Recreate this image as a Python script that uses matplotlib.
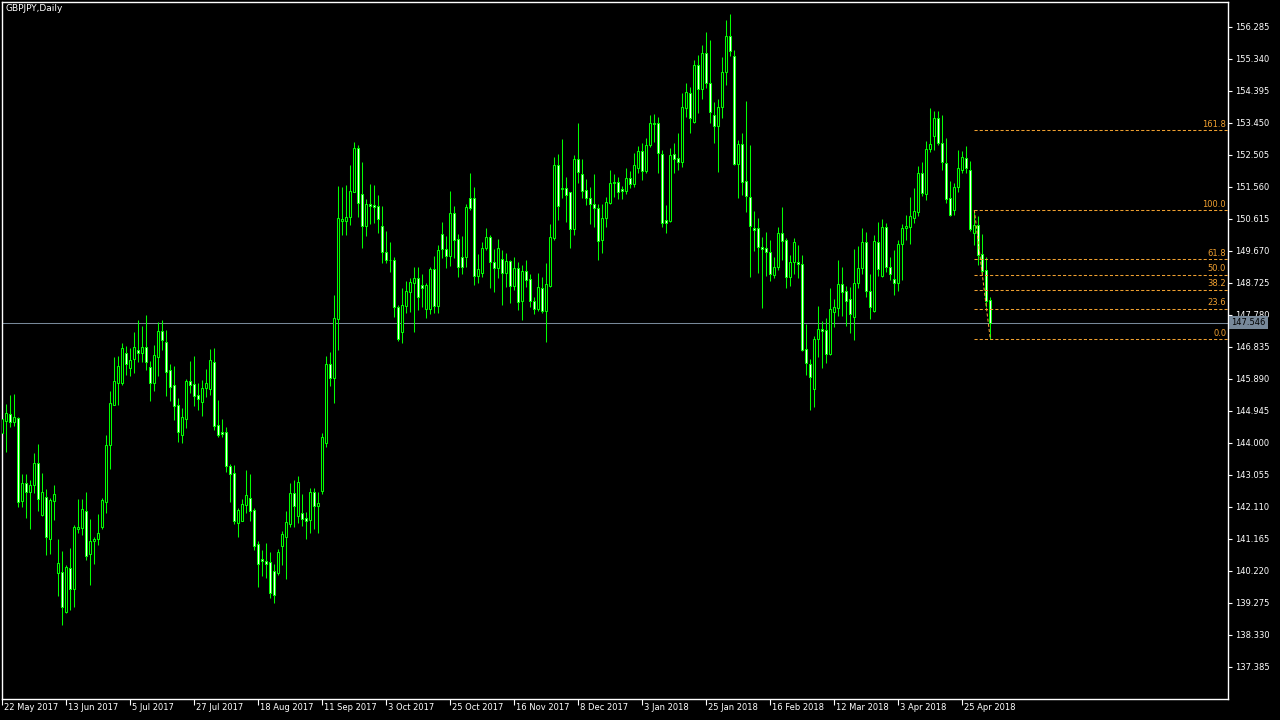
import numpy as np
import matplotlib
matplotlib.use("Agg")
import matplotlib.pyplot as plt
from matplotlib import transforms

# GBPJPY daily candles, 22 May 2017 .. 4 May 2018 (one row per bar)
opens = [
    144.30, 144.65, 144.84, 144.62, 144.72, 142.29, 142.80, 142.53, 142.74, 143.39,
    141.87, 142.41, 141.15, 142.29, 140.16, 140.19, 139.01, 140.29, 139.67, 141.44,
    141.47, 141.99, 140.70, 141.09, 141.15, 141.52, 142.24, 143.92, 145.11, 145.77,
    145.77, 146.64, 146.22, 146.46, 146.73, 146.66, 146.82, 146.25, 145.75, 146.52,
    147.31, 146.96, 146.15, 145.69, 145.10, 144.23, 144.71, 145.81, 145.72, 145.40,
    145.21, 145.62, 145.60, 146.37, 144.51, 144.33, 144.31, 143.31, 143.10, 141.64,
    141.69, 142.17, 142.36, 142.01, 141.00, 140.57, 140.52, 140.48, 140.21, 140.16,
    140.96, 141.23, 141.59, 142.51, 141.85, 141.91, 141.77, 141.72, 142.53, 142.14,
    142.57, 143.98, 146.31, 145.90, 147.64, 150.55, 150.56, 150.67, 151.41, 152.69,
    151.34, 150.41, 151.05, 151.01, 150.98, 150.41, 149.64, 149.41, 149.39, 148.00,
    147.28, 148.05, 148.46, 148.72, 148.85, 148.65, 147.96, 147.96, 149.12, 148.05,
    150.15, 149.71, 149.52, 150.78, 150.02, 149.47, 149.47, 151.22, 151.22, 148.93,
    149.00, 149.74, 150.06, 149.33, 149.15, 149.42, 149.00, 149.37, 148.64, 149.15,
    148.17, 149.06, 148.82, 148.19, 147.95, 148.56, 147.90, 148.64, 150.05, 152.20,
    151.48, 151.52, 151.39, 150.31, 152.38, 151.93, 151.46, 151.22, 151.04, 150.92,
    149.99, 150.63, 151.09, 151.66, 151.69, 151.49, 151.44, 151.81, 151.63, 152.12,
    152.61, 152.03, 152.79, 153.40, 153.43, 152.53, 150.58, 150.56, 152.53, 152.40,
    152.30, 153.87, 154.32, 153.48, 155.15, 154.44, 155.50, 154.61, 153.68, 153.36,
    153.90, 154.94, 156.01, 155.42, 152.22, 152.82, 151.73, 151.25, 150.35, 150.33,
    149.79, 149.74, 149.62, 148.95, 149.18, 150.18, 149.99, 148.90, 149.33, 149.33,
    149.27, 146.76, 146.31, 145.58, 147.06, 147.36, 147.33, 146.61, 147.87, 147.99,
    148.68, 148.48, 148.23, 147.72, 148.71, 149.15, 149.94, 148.49, 147.90, 149.94,
    148.92, 150.36, 149.18, 148.82, 148.71, 149.87, 150.33, 150.36, 150.63, 150.82,
    151.95, 151.33, 152.66, 153.06, 153.58, 152.86, 152.25, 151.22, 150.87, 151.54,
    152.05, 152.40, 152.05, 150.18, 150.43, 149.56, 149.10, 148.21,
]
highs = [
    144.95, 145.14, 145.41, 145.44, 144.77, 143.08, 143.08, 142.90, 143.69, 143.96,
    143.11, 142.63, 142.37, 142.75, 141.16, 140.80, 140.39, 140.89, 141.56, 142.33,
    142.33, 142.54, 141.75, 141.22, 141.90, 142.37, 144.23, 145.53, 146.53, 146.56,
    146.93, 146.87, 146.79, 147.27, 147.62, 147.45, 147.77, 146.42, 146.89, 147.55,
    147.62, 147.33, 146.32, 146.26, 145.32, 145.02, 145.87, 146.41, 146.56, 145.75,
    145.85, 146.17, 146.77, 146.80, 145.26, 144.70, 144.45, 143.37, 143.34, 142.06,
    142.33, 143.19, 143.07, 142.06, 141.11, 140.83, 141.03, 140.76, 140.42, 140.85,
    141.40, 141.98, 142.80, 142.90, 143.02, 142.49, 141.94, 142.67, 142.67, 142.55,
    144.28, 146.56, 146.69, 148.36, 151.58, 151.56, 151.61, 152.20, 152.87, 152.79,
    152.28, 151.20, 151.64, 151.61, 151.31, 150.99, 150.25, 149.92, 149.49, 148.06,
    148.56, 148.77, 148.85, 149.20, 149.20, 148.97, 148.73, 149.20, 149.50, 149.84,
    150.51, 150.11, 151.43, 151.00, 150.15, 150.10, 151.05, 151.97, 151.56, 149.56,
    149.93, 150.35, 150.13, 149.72, 150.02, 149.69, 149.59, 149.41, 149.47, 149.34,
    149.25, 149.40, 148.98, 148.31, 149.02, 148.90, 149.32, 150.46, 152.45, 152.53,
    152.97, 151.84, 151.39, 152.50, 153.45, 152.38, 151.79, 151.54, 151.93, 151.05,
    151.05, 151.27, 152.05, 151.93, 151.84, 151.58, 152.10, 152.02, 152.55, 152.76,
    152.86, 153.01, 153.68, 153.71, 153.63, 152.64, 151.02, 152.69, 152.84, 153.14,
    154.32, 154.61, 154.49, 155.30, 155.45, 155.74, 156.14, 155.89, 154.07, 154.14,
    155.40, 156.48, 156.66, 155.60, 152.94, 153.14, 154.09, 152.79, 150.85, 150.63,
    150.06, 150.21, 149.99, 149.47, 150.38, 150.95, 150.04, 149.54, 150.04, 149.84,
    149.54, 147.51, 146.47, 147.15, 148.04, 147.59, 147.67, 148.58, 148.24, 149.40,
    149.18, 148.63, 148.59, 149.72, 149.82, 150.33, 150.21, 148.98, 150.13, 150.51,
    150.61, 150.48, 149.49, 149.69, 149.99, 150.46, 150.72, 151.25, 151.51, 152.17,
    152.30, 152.91, 153.87, 153.80, 153.80, 153.68, 152.99, 151.73, 151.66, 152.64,
    152.62, 152.76, 152.32, 150.87, 150.68, 150.16, 149.49, 148.31,
]
lows = [
    144.10, 143.74, 144.47, 144.49, 142.11, 142.11, 141.79, 141.46, 142.51, 141.99,
    141.85, 140.68, 140.71, 141.72, 139.48, 138.62, 138.98, 139.06, 139.16, 141.32,
    141.28, 140.54, 139.80, 140.42, 140.98, 141.44, 141.93, 143.22, 145.10, 145.11,
    145.70, 146.00, 145.98, 146.05, 146.39, 146.39, 146.15, 145.23, 145.54, 145.97,
    146.74, 145.38, 145.24, 144.67, 144.02, 143.99, 144.43, 145.48, 145.09, 144.97,
    144.79, 145.36, 145.41, 144.37, 144.18, 144.16, 143.14, 142.26, 141.60, 141.22,
    141.69, 141.91, 141.69, 140.83, 139.75, 140.06, 140.01, 139.40, 139.26, 140.09,
    140.39, 139.97, 141.52, 141.52, 141.62, 141.55, 141.16, 141.34, 141.45, 141.32,
    142.50, 143.88, 145.66, 145.16, 146.74, 150.13, 150.13, 150.43, 151.39, 150.67,
    149.76, 150.10, 150.45, 150.49, 150.20, 149.30, 149.30, 149.05, 147.72, 147.00,
    146.93, 147.83, 147.86, 147.28, 147.93, 148.00, 147.67, 147.80, 147.83, 147.82,
    149.46, 149.16, 149.23, 149.45, 148.89, 148.97, 149.20, 150.87, 148.66, 148.71,
    148.90, 149.69, 148.56, 148.44, 148.85, 148.07, 148.61, 148.12, 148.51, 147.92,
    147.62, 148.61, 148.00, 147.80, 147.90, 147.84, 146.98, 148.59, 149.99, 150.58,
    151.22, 150.53, 149.76, 150.13, 151.66, 151.24, 151.02, 150.46, 150.38, 149.40,
    149.61, 150.38, 151.05, 151.25, 151.21, 151.20, 151.33, 151.51, 151.54, 151.97,
    151.76, 151.97, 152.72, 152.89, 151.95, 150.38, 150.20, 150.53, 151.96, 152.05,
    152.15, 153.63, 153.14, 153.43, 153.75, 154.14, 154.47, 153.45, 152.84, 151.98,
    153.58, 154.56, 155.42, 152.20, 151.22, 151.31, 150.82, 148.90, 149.67, 149.00,
    147.97, 148.93, 148.78, 148.85, 149.10, 149.40, 148.56, 148.63, 148.98, 148.85,
    146.72, 146.00, 144.97, 145.06, 146.54, 146.22, 146.36, 146.59, 147.43, 147.75,
    147.75, 147.46, 147.25, 147.03, 148.58, 148.97, 148.29, 147.65, 147.87, 148.92,
    148.90, 149.05, 148.80, 148.36, 148.49, 148.80, 149.99, 149.87, 150.48, 150.69,
    151.29, 151.17, 152.59, 152.64, 152.79, 152.05, 151.07, 150.70, 150.72, 151.41,
    151.97, 151.97, 150.26, 149.84, 149.25, 148.95, 148.02, 147.06,
]
closes = [
    144.70, 144.87, 144.62, 144.75, 142.24, 142.80, 142.53, 142.74, 143.39, 142.33,
    142.54, 141.23, 142.31, 142.48, 140.44, 139.14, 140.32, 139.67, 141.50, 141.50,
    142.03, 140.66, 141.09, 141.15, 141.32, 142.31, 143.92, 145.16, 145.83, 146.28,
    146.79, 146.31, 146.44, 146.82, 146.64, 146.84, 146.37, 145.75, 146.58, 147.29,
    147.02, 146.08, 145.65, 145.09, 144.32, 144.75, 145.81, 145.71, 145.39, 145.28,
    145.63, 145.75, 146.43, 144.50, 144.24, 144.26, 143.32, 143.09, 141.69, 142.01,
    142.19, 142.45, 141.99, 140.96, 140.43, 140.52, 140.43, 139.55, 139.49, 140.77,
    141.30, 141.66, 142.51, 142.14, 142.83, 141.76, 141.70, 142.54, 142.14, 142.22,
    144.16, 146.31, 145.90, 147.67, 150.63, 150.60, 150.67, 151.42, 152.69, 151.07,
    150.41, 151.05, 151.00, 150.97, 150.60, 149.64, 149.40, 149.39, 148.00, 147.06,
    148.07, 148.47, 148.74, 148.85, 148.31, 148.56, 148.65, 149.12, 148.05, 149.69,
    149.71, 149.52, 150.78, 149.99, 149.20, 149.18, 150.95, 150.92, 148.93, 149.12,
    149.74, 150.07, 149.33, 149.15, 149.74, 149.00, 149.37, 148.64, 149.15, 148.15,
    149.06, 148.81, 148.17, 147.95, 148.59, 147.90, 148.69, 150.08, 152.20, 151.00,
    151.52, 151.31, 150.31, 152.38, 152.00, 151.44, 151.22, 151.04, 150.92, 149.97,
    150.63, 151.10, 151.66, 151.69, 151.39, 151.44, 151.81, 151.63, 152.20, 152.61,
    152.03, 152.79, 153.43, 153.43, 152.55, 150.50, 150.50, 152.50, 152.38, 152.30,
    153.90, 154.35, 153.58, 155.15, 154.44, 155.50, 154.61, 153.78, 153.36, 153.90,
    154.94, 156.01, 155.58, 152.22, 152.82, 151.71, 151.30, 150.41, 150.28, 149.77,
    149.72, 149.62, 148.98, 149.20, 150.18, 149.97, 148.90, 149.33, 149.92, 149.27,
    146.74, 146.34, 145.95, 147.06, 147.36, 147.31, 146.61, 147.94, 148.00, 148.69,
    148.46, 148.19, 147.79, 148.71, 149.15, 149.94, 148.49, 148.00, 149.97, 149.12,
    150.36, 149.18, 148.98, 148.71, 149.87, 150.33, 150.40, 150.70, 150.84, 151.95,
    151.38, 152.66, 152.81, 153.58, 152.86, 152.30, 151.20, 150.72, 151.54, 152.10,
    152.43, 152.10, 150.31, 150.43, 149.54, 149.08, 148.19, 147.546,
]

date_labels = ["22 May 2017", "13 Jun 2017", "5 Jul 2017", "27 Jul 2017", "18 Aug 2017",
               "11 Sep 2017", "3 Oct 2017", "25 Oct 2017", "16 Nov 2017", "8 Dec 2017",
               "3 Jan 2018", "25 Jan 2018", "16 Feb 2018", "12 Mar 2018", "3 Apr 2018",
               "25 Apr 2018"]
price_ticks = [137.385 + 0.945 * k for k in range(21)]

fib_levels = [0.0, 23.6, 38.2, 50.0, 61.8, 100.0, 161.8]
fib_high, fib_low = 150.87, 147.06
fib_start, fib_end = 243, 247
last_price = 147.546

green = "#00ff00"
fib_col = "#f0a030"
price_col = "#778899"

o = np.array(opens); h = np.array(highs); l = np.array(lows); c = np.array(closes)
x = np.arange(len(c))
up = c >= o

fig = plt.figure(figsize=(12.8, 7.2), dpi=100, facecolor="black")
ax = fig.add_axes([2 / 1280, 21 / 720, 1226 / 1280, 697 / 720], facecolor="black")

ax.vlines(x, l, h, color=green, lw=0.75, zorder=2)
ax.bar(x[up], (c - o)[up], bottom=o[up], width=0.55, facecolor="black",
       edgecolor=green, lw=0.75, zorder=3)
ax.bar(x[~up], (o - c)[~up], bottom=c[~up], width=0.55, facecolor="white",
       edgecolor=green, lw=0.75, zorder=3)

ax.set_xlim(-0.075, 306.425)
ax.set_ylim(136.432, 157.014)

# current price line + label
ax.axhline(last_price, color=price_col, lw=0.75, zorder=1)
ax.text(1.0025, last_price, "%.3f" % last_price, transform=ax.get_yaxis_transform(),
        ha="left", va="center", fontsize=6, color="black", clip_on=False, zorder=10,
        bbox=dict(boxstyle="square,pad=0.25", fc=price_col, ec="none"))

# fibonacci retracement
rng = fib_high - fib_low
x_right = ax.get_xlim()[1]
for lev in fib_levels:
    p = fib_low + rng * lev / 100
    ax.plot([fib_start, x_right], [p, p], color=fib_col, lw=0.75, ls=(0, (3, 2)), zorder=4)
    ax.text(0.9985, p + 0.04, "%.1f" % lev, transform=ax.get_yaxis_transform(),
            ha="right", va="bottom", fontsize=6, color=fib_col)
ax.plot([fib_start, fib_end], [fib_high, fib_low], color=fib_col, lw=0.75,
        ls=(0, (3, 2)), zorder=4)

for s in ax.spines.values():
    s.set_color("white")
    s.set_linewidth(1)

ax.set_yticks(price_ticks)
ax.set_yticklabels(["%.3f" % t for t in price_ticks])
ax.tick_params(axis="y", left=False, right=True, labelleft=False, labelright=True,
               colors="white", length=3, width=0.8, labelsize=6, pad=2)

ax.set_xticks(np.arange(len(date_labels)) * 16)
ax.set_xticklabels(date_labels, ha="left")
ax.tick_params(axis="x", colors="white", length=4, width=0.8, labelsize=6, pad=-1)
shift = transforms.ScaledTranslation(1.5 / 100, 0, fig.dpi_scale_trans)
for lbl in ax.get_xticklabels():
    lbl.set_transform(lbl.get_transform() + shift)

fig.text(6 / 1280, 1 - 4 / 720, "GBPJPY,Daily", color="white", fontsize=6.5,
         ha="left", va="top")

fig.savefig("out.png", dpi=100, facecolor="black")
